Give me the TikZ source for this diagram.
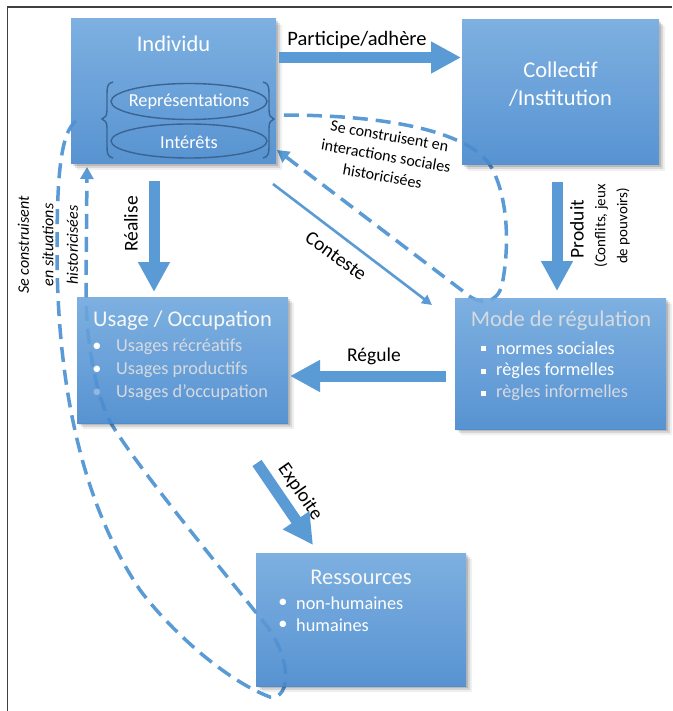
\documentclass[tikz,border=0pt]{standalone}
\usepackage{fontspec}
\setmainfont{Carlito}
\usetikzlibrary{arrows.meta}
\definecolor{arrowblue}{RGB}{91,155,213}
\definecolor{boxtop}{RGB}{112,168,222}
\definecolor{boxbot}{RGB}{70,136,205}
\definecolor{ellline}{RGB}{58,100,145}
\definecolor{lightgrey}{RGB}{214,218,224}
\newcommand\shadowfor[4]{%
  \foreach \d/\o in {2/0.14,4/0.10,6/0.06}{%
    \fill[black,opacity=\o] (#1+\d,#4) -- (#3,#4) -- (#3,#2+\d) -- (#3+\d,#2+\d) -- (#3+\d,#4+\d) -- (#1+\d,#4+\d) -- cycle;}}
\begin{document}
\begin{tikzpicture}[x=1pt,y=-1pt,
  box/.style={draw=none,top color=boxtop,bottom color=boxbot,fill opacity=0.9,inner sep=0pt,outer sep=0pt,anchor=north west},
  boxtitle/.style={text=white,font=\fontsize{22.5}{27}\selectfont,inner sep=0pt},
  item/.style={font=\fontsize{18.3}{22}\selectfont,anchor=west,inner sep=0pt},
  bul/.style={font=\fontsize{18.3}{22}\selectfont,inner sep=0pt},
  lab/.style={text=black,font=\fontsize{19.5}{23}\selectfont,inner sep=0pt},
  dashline/.style={draw=arrowblue,line width=3.5pt,dash pattern=on 15pt off 8pt},
  blockarrow/.style={draw=arrowblue,line width=11pt,-{Triangle[length=30pt,width=30pt]}},
  ell/.style={draw=ellline,line width=1.4pt},
]
\useasboundingbox (0,0) rectangle (672,711);
\fill[white] (0,0) rectangle (672,711);
\draw[line width=1.6pt,black!75] (7.5,711) -- (7.5,6.8) -- (672,6.8);

% dashed loops
\draw[dashline,{Triangle[length=12pt,width=13pt]}-] (277,150) -- (468,295)
  .. controls (480,305) and (497,304) .. (502,285)
  .. controls (510,245) and (508,195) .. (490,165)
  .. controls (470,135) and (400,115) .. (281,115);
\draw[dashline,-{Triangle[length=12pt,width=13pt]}] (76,121)
  .. controls (60,133) and (57,180) .. (57,250)
  .. controls (57,380) and (80,500) .. (140,590)
  .. controls (170,630) and (225,680) .. (270,697)
  .. controls (292,700) and (292,655) .. (262,620)
  .. controls (210,555) and (140,470) .. (112,425)
  .. controls (95,395) and (86,340) .. (86,290) -- (87,167);

% shadows
\shadowfor{71}{19}{276}{164}
\shadowfor{462}{20}{659}{165}
\shadowfor{77}{297}{288}{423}
\shadowfor{455}{298}{666}{429}
\shadowfor{256}{553}{466}{686}

% boxes
\node[box,minimum width=205pt,minimum height=145pt] (indiv) at (71,19) {};
\node[box,minimum width=197pt,minimum height=145pt] (coll) at (462,20) {};
\node[box,minimum width=211pt,minimum height=126pt] (usage) at (77,297) {};
\node[box,minimum width=211pt,minimum height=131pt] (mode) at (455,298) {};
\node[box,minimum width=210pt,minimum height=133pt] (res) at (256,553) {};

% Individu
\node[boxtitle] (indivt) at (173.5,44) {Individu};
\draw[ell] (189,101.5) ellipse [x radius=78, y radius=18];
\draw[ell] (189,141) ellipse [x radius=78, y radius=17];
\node[bul,text=white] (rep) at (189,102) {Représentations};
\node[bul,text=white] (int) at (189,142) {Intérêts};
\draw[ell] (113,82) .. controls (107,83) and (107,88) .. (107,95) -- (107,110)
  .. controls (107,116) and (105,118) .. (102,119)
  .. controls (105,120) and (107,122) .. (107,128) -- (107,145)
  .. controls (107,152) and (107,157) .. (113,158);
\draw[ell] (263,82) .. controls (269,83) and (269,88) .. (269,95) -- (269,110)
  .. controls (269,116) and (271,118) .. (274,119)
  .. controls (271,120) and (269,122) .. (269,128) -- (269,145)
  .. controls (269,152) and (269,157) .. (263,158);

% Collectif
\node[boxtitle,align=center,font=\fontsize{22.5}{28}\selectfont] (collt) at (560.5,84) {Collectif\\/Institution};

% Usage
\node[boxtitle,text=white!94!gray] (usaget) at (182.5,321) {Usage / Occupation};
\node[bul,text=white] at (97,347) {•};
\node[bul,text=white] at (97,370) {•};
\node[bul,text=white!40!boxbot] at (97,393) {•};
\node[item,text=lightgrey] (u1) at (116,347) {Usages récréatifs};
\node[item,text=lightgrey] (u2) at (116,370) {Usages productifs};
\node[item,text=lightgrey] (u3) at (116,393) {Usages d’occupation};

% Mode de regulation
\node[boxtitle,text=lightgrey] (modet) at (561,321) {Mode de régulation};
\foreach \yy in {348,371,393}{\fill[white] (481,\yy-2.5) rectangle (486,\yy+2.5);}
\node[item,text=white] (m1) at (496,348) {normes sociales};
\node[item,text=white] (m2) at (496,371) {règles formelles};
\node[item,text=lightgrey] (m3) at (496,393) {règles informelles};

% Ressources
\node[boxtitle,text=white!94!gray] (rest) at (361,577) {Ressources};
\node[bul,text=white] at (283,603) {•};
\node[bul,text=white] at (283,625) {•};
\node[item,text=white] (r1) at (296,603) {non-humaines};
\node[item,text=white] (r2) at (296,625) {humaines};

% block arrows
\coordinate (pa1) at (279,57.5); \coordinate (pa2) at (461,57.5);
\draw[blockarrow] (pa1) -- (pa2);
\coordinate (re1) at (154,181); \coordinate (re2) at (154,292);
\draw[blockarrow] (re1) -- (re2);
\coordinate (pr1) at (557,182); \coordinate (pr2) at (557,291);
\draw[blockarrow] (pr1) -- (pr2);
\coordinate (rg1) at (446,376); \coordinate (rg2) at (290,376);
\draw[blockarrow] (rg1) -- (rg2);
\coordinate (ex1) at (257,463); \coordinate (ex2) at (313,545);
\draw[blockarrow] (ex1) -- (ex2);
\coordinate (co1) at (273,184); \coordinate (co2) at (432,305);
\draw[draw=arrowblue,line width=2.6pt,-{Triangle[length=10pt,width=10pt]}] (co1) -- (co2);

% labels
\node[lab,font=\fontsize{20.5}{24}\selectfont] (lpa) at (357,40) {Participe/adhère};
\node[lab,rotate=90] (lre) at (131,224) {Réalise};
\node[lab,rotate=90] (lpr) at (577,229) {Produit};
\node[lab,rotate=90,align=center,font=\fontsize{15}{22}\selectfont] (lpr2) at (612,226) {(Conflits, jeux\\de pouvoirs)};
\node[lab] (lrg) at (374,356) {Régule};
\node[lab,rotate=-36] (lco) at (336,256) {Conteste};
\node[lab,rotate=-55] (lex) at (300,492) {Exploite};
\node[lab,rotate=-10,align=center,font=\fontsize{16}{20.5}\selectfont] (lint) at (386,156) {Se construisent en\\interactions sociales\\historicisées};
\node[lab,rotate=90,align=center,font=\itshape\fontsize{16}{24.5}\selectfont] (lsit) at (48,245) {Se construisent\\en situations\\historicisées};
\end{tikzpicture}
\end{document}
